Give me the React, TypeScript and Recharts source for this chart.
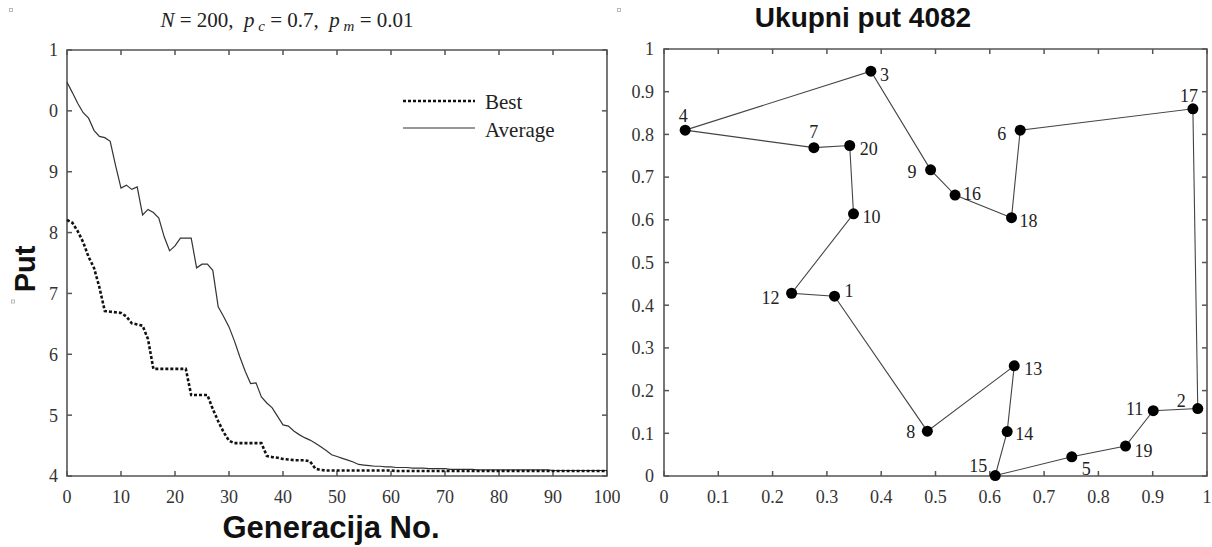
import React from 'react';
import { LineChart, Line, XAxis, YAxis, ScatterChart, Scatter, Legend, ReferenceArea } from 'recharts';

// ---------- Left panel data (GA convergence) ----------
const averageValues = [
  10.47, 10.3, 10.12, 9.97, 9.88, 9.68, 9.58, 9.56, 9.5, 9.1,
  8.73, 8.78, 8.71, 8.75, 8.29, 8.38, 8.33, 8.24, 7.93, 7.7,
  7.78, 7.91, 7.91, 7.91, 7.42, 7.48, 7.48, 7.38, 6.78, 6.62,
  6.45, 6.22, 5.96, 5.72, 5.52, 5.53, 5.3, 5.2, 5.12, 4.98,
  4.84, 4.82, 4.74, 4.68, 4.63, 4.59, 4.54, 4.48, 4.42, 4.35,
  4.32, 4.29, 4.26, 4.23, 4.19, 4.18, 4.17, 4.16, 4.16, 4.15,
  4.15, 4.14, 4.14, 4.14, 4.13, 4.13, 4.13, 4.12, 4.12, 4.12,
  4.12, 4.11, 4.11, 4.11, 4.11, 4.11, 4.1, 4.1, 4.1, 4.1,
  4.1, 4.1, 4.1, 4.1, 4.1, 4.1, 4.1, 4.1, 4.1, 4.1,
  4.09, 4.09, 4.09, 4.09, 4.09, 4.09, 4.09, 4.09, 4.09, 4.09,
  4.09,
];
const bestValues = [
  8.21, 8.16, 8.02, 7.84, 7.6, 7.42, 7.1, 6.71, 6.7, 6.69,
  6.68, 6.62, 6.51, 6.49, 6.47, 6.25, 5.76, 5.76, 5.76, 5.76,
  5.76, 5.76, 5.76, 5.33, 5.33, 5.33, 5.33, 5.1, 4.9, 4.72,
  4.58, 4.54, 4.54, 4.54, 4.54, 4.54, 4.54, 4.33, 4.31, 4.3,
  4.28, 4.27, 4.26, 4.26, 4.26, 4.24, 4.12, 4.1, 4.09, 4.09,
  4.09, 4.09, 4.09, 4.09, 4.09, 4.09, 4.09, 4.09, 4.09, 4.09,
  4.09, 4.082, 4.082, 4.082, 4.082, 4.082, 4.082, 4.082, 4.082, 4.082,
  4.082, 4.082, 4.082, 4.082, 4.082, 4.082, 4.082, 4.082, 4.082, 4.082,
  4.082, 4.082, 4.082, 4.082, 4.082, 4.082, 4.082, 4.082, 4.082, 4.082,
  4.082, 4.082, 4.082, 4.082, 4.082, 4.082, 4.082, 4.082, 4.082, 4.082,
  4.082,
];
const genTicks = [0, 10, 20, 30, 40, 50, 60, 70, 80, 90, 100];
const genTickLabels = ['0', '10', '20', '30', '40', '50', '60', '70', '80', '90', '100'];
const putTicks = [4, 5, 6, 7, 8, 9, 10, 11];
const putTickLabels = ['4', '5', '6', '7', '8', '9', '0', '1'];

// ---------- Right panel data (TSP tour) ----------
const cityIds = [1, 2, 3, 4, 5, 6, 7, 8, 9, 10, 11, 12, 13, 14, 15, 16, 17, 18, 19, 20];
const cityX = [0.314, 0.983, 0.381, 0.039, 0.751, 0.656, 0.276, 0.485, 0.491, 0.349, 0.901, 0.235, 0.645, 0.632, 0.61, 0.536, 0.974, 0.64, 0.85, 0.342];
const cityY = [0.421, 0.158, 0.948, 0.81, 0.045, 0.81, 0.769, 0.105, 0.717, 0.614, 0.153, 0.428, 0.258, 0.104, 0.001, 0.658, 0.86, 0.605, 0.07, 0.774];
const tourOrder = [4, 3, 9, 16, 18, 6, 17, 2, 11, 19, 5, 15, 14, 13, 8, 1, 12, 10, 20, 7];
const unitTicks = [0, 0.1, 0.2, 0.3, 0.4, 0.5, 0.6, 0.7, 0.8, 0.9, 1];
const unitTickLabels = ['0', '0.1', '0.2', '0.3', '0.4', '0.5', '0.6', '0.7', '0.8', '0.9', '1'];

// label placement style per city: [dx, dy, anchor]
const labelPlacement: Record<number, [number, number, string]> = {
  1: [10, 1, 'start'],
  2: [-12, -2, 'end'],
  3: [9, 10, 'start'],
  4: [-2, -8, 'middle'],
  5: [10, 18, 'start'],
  6: [-14, 10, 'end'],
  7: [0, -10, 'middle'],
  8: [-12, 7, 'end'],
  9: [-14, 8, 'end'],
  10: [9, 9, 'start'],
  11: [-10, 4, 'end'],
  12: [-12, 11, 'end'],
  13: [10, 9, 'start'],
  14: [8, 8, 'start'],
  15: [-8, -4, 'end'],
  16: [8, 5, 'start'],
  17: [-4, -7, 'middle'],
  18: [8, 9, 'start'],
  19: [9, 11, 'start'],
  20: [10, 9, 'start'],
};

const genData = averageValues.map((v, i) => ({ gen: i, average: v, best: bestValues[i] }));
const cityPoint = (id: number) => {
  const k = cityIds.indexOf(id);
  return { x: cityX[k], y: cityY[k], city: id };
};
const tourData = tourOrder.map(cityPoint);
const closedTour = [...tourOrder, tourOrder[0]].map(cityPoint);

const AXIS = '#555';
const TICK_LEN = 5; // px
const TICK_W = 1.5; // px
const SERIF = '"Liberation Serif", "Times New Roman", serif';
const SANS = '"Liberation Sans", Arial, Helvetica, sans-serif';
const BOTTOM_MARGIN = 14;
const LEFT_MARGIN_L = 9;
const LEFT_MARGIN_R = 10;

// inward tick marks (MATLAB box style), drawn as tiny reference areas
function tickMarks(
  xt: number[], yt: number[], xd: [number, number], yd: [number, number],
  plotW: number, plotH: number, prefix: string,
) {
  const ux = (xd[1] - xd[0]) / plotW; // data units per px
  const uy = (yd[1] - yd[0]) / plotH;
  const hw = (TICK_W / 2) * ux;
  const hh = (TICK_W / 2) * uy;
  const lx = TICK_LEN * ux;
  const ly = TICK_LEN * uy;
  const common = { fill: AXIS, fillOpacity: 1, stroke: 'none', ifOverflow: 'visible' as const };
  const out: React.ReactElement[] = [];
  xt.forEach((t, i) => {
    out.push(<ReferenceArea key={`${prefix}b${i}`} x1={t - hw} x2={t + hw} y1={yd[0]} y2={yd[0] + ly} {...common} />);
    out.push(<ReferenceArea key={`${prefix}t${i}`} x1={t - hw} x2={t + hw} y1={yd[1] - ly} y2={yd[1]} {...common} />);
  });
  yt.forEach((t, i) => {
    out.push(<ReferenceArea key={`${prefix}l${i}`} x1={xd[0]} x2={xd[0] + lx} y1={t - hh} y2={t + hh} {...common} />);
    out.push(<ReferenceArea key={`${prefix}r${i}`} x1={xd[1] - lx} x2={xd[1]} y1={t - hh} y2={t + hh} {...common} />);
  });
  return out;
}

const BottomTick = (props: any) => {
  const { index, labels } = props;
  return (
    <text x={Number(props.x)} y={Number(props.y)} dy="0.71em" textAnchor="middle" fontFamily={SERIF} fontSize={18} fill="#333">
      {labels[index]}
    </text>
  );
};
const LeftTick = (props: any) => {
  const { index, labels } = props;
  return (
    <text x={Number(props.x)} y={Number(props.y)} dy="0.355em" textAnchor="end" fontFamily={SERIF} fontSize={18} fill="#333">
      {labels[index]}
    </text>
  );
};

const LegendBox = () => (
  <svg width={210} height={60} style={{ overflow: 'visible' }}>
    <line x1={3} x2={75} y1={13} y2={13} stroke="#111" strokeWidth={2.6} strokeDasharray="3 2" />
    <text x={85} y={21} fontFamily={SERIF} fontSize={21} fill="#222">Best</text>
    <line x1={3} x2={75} y1={40} y2={40} stroke="#333" strokeWidth={1.2} />
    <text x={85} y={49} fontFamily={SERIF} fontSize={21} fill="#222">Average</text>
  </svg>
);

const CityDot = (props: any) => {
  const { cx, cy, payload } = props;
  const [dx, dy, anchor] = labelPlacement[payload.city] || [8, 5, 'start'];
  return (
    <g>
      <circle cx={cx} cy={cy} r={5.5} fill="#000" />
      <text x={cx + dx} y={cy + dy} textAnchor={anchor as any} fontFamily={SERIF} fontSize={18} fill="#222">
        {payload.city}
      </text>
    </g>
  );
};

const Empty = () => <g />;

export default function App() {
  return (
    <div style={{ position: 'absolute', left: 0, top: 0, width: 1212, height: 547, background: '#fff' }}>
      <div style={{ position: 'absolute', left: 0, top: 0 }}>
        <LineChart width={620} height={547} data={genData} margin={{ top: 50, right: 13, bottom: 41, left: 0 }}>
          <XAxis
            dataKey="gen" type="number" domain={[0, 100]} ticks={genTicks} height={30} interval={0}
            tickSize={0} tickMargin={BOTTOM_MARGIN} axisLine={false} tickLine={false}
            tick={<BottomTick labels={genTickLabels} />}
          />
          <YAxis
            type="number" domain={[4, 11]} ticks={putTicks} width={67} interval={0}
            tickSize={0} tickMargin={LEFT_MARGIN_L} axisLine={false} tickLine={false}
            tick={<LeftTick labels={putTickLabels} />}
          />
          {tickMarks(genTicks, putTicks, [0, 100], [4, 11], 540, 426, 'g')}
          <ReferenceArea x1={0} x2={100} y1={4} y2={11} fill="none" fillOpacity={0} stroke={AXIS} strokeWidth={1.6} ifOverflow="visible" />
          <Line dataKey="average" type="linear" stroke="#333" strokeWidth={1.2} dot={false} isAnimationActive={false} />
          <Line dataKey="best" type="linear" stroke="#111" strokeWidth={2.6} strokeDasharray="3 2" dot={false} isAnimationActive={false} />
          <Legend
            layout="vertical" align="center" verticalAlign="middle"
            content={() => <LegendBox />}
            wrapperStyle={{ left: 400, top: 88, width: 210, height: 60 }}
          />
        </LineChart>
      </div>
      <div style={{ position: 'absolute', left: 600, top: 0 }}>
        <ScatterChart width={612} height={547} margin={{ top: 49, right: 5, bottom: 41, left: 0 }}>
          <XAxis
            dataKey="x" type="number" domain={[0, 1]} ticks={unitTicks} height={30} interval={0}
            tickSize={0} tickMargin={BOTTOM_MARGIN} axisLine={false} tickLine={false}
            tick={<BottomTick labels={unitTickLabels} />}
          />
          <YAxis
            dataKey="y" type="number" domain={[0, 1]} ticks={unitTicks} width={64} interval={0}
            tickSize={0} tickMargin={LEFT_MARGIN_R} axisLine={false} tickLine={false}
            tick={<LeftTick labels={unitTickLabels} />}
          />
          {tickMarks(unitTicks, unitTicks, [0, 1], [0, 1], 543, 427, 'u')}
          <ReferenceArea x1={0} x2={1} y1={0} y2={1} fill="none" fillOpacity={0} stroke={AXIS} strokeWidth={1.6} ifOverflow="visible" />
          <Scatter
            data={closedTour} line={{ stroke: '#444', strokeWidth: 1.1 }} lineType="joint"
            shape={<Empty />} isAnimationActive={false}
          />
          <Scatter data={tourData} shape={<CityDot />} isAnimationActive={false} />
        </ScatterChart>
      </div>
      <svg width={1212} height={547} style={{ position: 'absolute', left: 0, top: 0, pointerEvents: 'none' }}>
        <text x={287} y={26.5} textAnchor="middle" fontFamily={SERIF} fontSize={21} fill="#222" style={{ whiteSpace: 'pre' }}>
          <tspan fontStyle="italic">N</tspan>
          <tspan> = 200,  </tspan>
          <tspan fontStyle="italic">p</tspan>
          <tspan fontStyle="italic" fontSize={15} dy={4}> c</tspan>
          <tspan dy={-4}> = 0.7,  </tspan>
          <tspan fontStyle="italic">p</tspan>
          <tspan fontStyle="italic" fontSize={15} dy={4}> m</tspan>
          <tspan dy={-4}> = 0.01</tspan>
        </text>
        <text x={863} y={26.5} textAnchor="middle" fontFamily={SANS} fontWeight="bold" fontSize={28} fill="#111">
          Ukupni put 4082
        </text>
        <text x={331} y={538} textAnchor="middle" fontFamily={SANS} fontWeight="bold" fontSize={31} fill="#111">
          Generacija No.
        </text>
        <text x={35} y={269} textAnchor="middle" fontFamily={SANS} fontWeight="bold" fontSize={29} fill="#111"
          transform="rotate(-90 35 269)">
          Put
        </text>
        <rect x={9.5} y={8.5} width={3} height={3} fill="none" stroke="#aaa" strokeWidth={0.8} />
        <rect x={617.5} y={8.5} width={3} height={3} fill="none" stroke="#aaa" strokeWidth={0.8} />
        <rect x={11.5} y={300} width={3} height={3} fill="none" stroke="#aaa" strokeWidth={0.8} />
      </svg>
    </div>
  );
}
